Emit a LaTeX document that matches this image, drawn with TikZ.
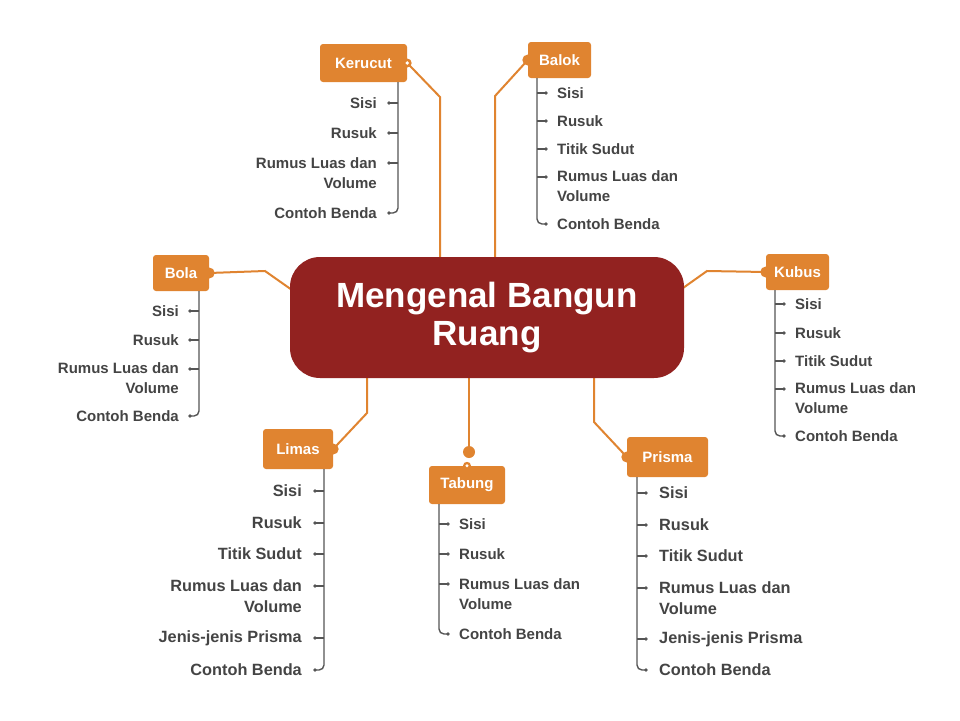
\documentclass[tikz,border=0pt]{standalone}
\usepackage{fontspec}
\setmainfont{Liberation Sans}
\definecolor{orng}{HTML}{E08430}
\definecolor{maroon}{HTML}{922220}
\definecolor{txtg}{HTML}{444444}
\definecolor{trk}{HTML}{555555}
\tikzset{
  conn/.style={draw=orng, line width=2pt},
  trunk/.style={draw=trk, line width=1.4pt},
  cat/.style={fill=orng, rounded corners=3pt, text=white, font=\bfseries\fontsize{15}{17}\selectfont, inner sep=0pt},
  itR/.style={anchor=west, inner sep=0pt, text=txtg, align=left, font=\bfseries\fontsize{15}{20}\selectfont},
  itL/.style={anchor=east, inner sep=0pt, text=txtg, align=right, font=\bfseries\fontsize{15}{20}\selectfont},
  itRb/.style={itR, font=\bfseries\fontsize{16.3}{21}\selectfont},
  itLb/.style={itL, font=\bfseries\fontsize{16.3}{21}\selectfont},
}
\def\tgap{20}
% right-side item: name, trunk x, y, text, style
\newcommand\iR[5]{%
  \coordinate (#1) at ({#2+9},#3);
  \draw[trunk] (#2,#3) -- (#1);
  \fill[trk] (#1) circle[radius=1.8pt];
  \node[#5] (#1-t) at ({#2+\tgap},#3) {#4};}
\newcommand\iL[5]{%
  \coordinate (#1) at ({#2-9},#3);
  \draw[trunk] (#2,#3) -- (#1);
  \fill[trk] (#1) circle[radius=1.8pt];
  \node[#5] (#1-t) at ({#2-\tgap},#3) {#4};}
% last item with rounded trunk: parent, name, trunk x, y, text, style
\newcommand\lR[6]{%
  \coordinate (#2) at ({#3+9},#4);
  \coordinate (#2-x) at (#3,0);
  \draw[trunk, rounded corners=5pt] (#1.south -| #2-x) |- (#2);
  \fill[trk] (#2) circle[radius=1.8pt];
  \node[#6] (#2-t) at ({#3+\tgap},#4) {#5};}
\newcommand\lL[6]{%
  \coordinate (#2) at ({#3-9},#4);
  \coordinate (#2-x) at (#3,0);
  \draw[trunk, rounded corners=5pt] (#1.south -| #2-x) |- (#2);
  \fill[trk] (#2) circle[radius=1.8pt];
  \node[#6] (#2-t) at ({#3-\tgap},#4) {#5};}
\begin{document}
\begin{tikzpicture}[x=1pt,y=-1pt]
\path[use as bounding box, fill=white] (0,0) rectangle (960,720);

% category boxes
\node[cat, minimum width=87pt, minimum height=38pt] (Kerucut) at (363.5,63) {Kerucut};
\node[cat, minimum width=63pt, minimum height=36pt] (Balok) at (559.5,60) {Balok};
\node[cat, minimum width=56pt, minimum height=36pt] (Bola) at (181,273) {Bola};
\node[cat, minimum width=63pt, minimum height=36pt] (Kubus) at (797.5,272) {Kubus};
\node[cat, minimum width=70pt, minimum height=40pt] (Limas) at (298,449) {Limas};
\node[cat, minimum width=76pt, minimum height=38pt] (Tabung) at (467,485) {Tabung};
\node[cat, minimum width=81pt, minimum height=40pt] (Prisma) at (667.5,457) {Prisma};

% orange connectors
\coordinate (kA) at (440,258); \coordinate (kB) at (440,97);
\coordinate (bA) at (495,258); \coordinate (bB) at (495,96);
\coordinate (oA) at (292,290); \coordinate (oB) at (265,271);
\coordinate (uA) at (683,288); \coordinate (uB) at (707,271);
\coordinate (lA) at (367,377); \coordinate (lB) at (367,413);
\coordinate (tA) at (469,377); \coordinate (tB) at (469,452);
\coordinate (pA) at (594,377); \coordinate (pB) at (594,422);
\draw[conn] (kA) -- (kB) -- (Kerucut.east);
\draw[conn] (bA) -- (bB) -- (Balok.west);
\draw[conn] (oA) -- (oB) -- (Bola.east);
\draw[conn] (uA) -- (uB) -- (Kubus.west);
\draw[conn] (lA) -- (lB) -- (Limas.east);
\draw[conn] (tA) -- (tB);
\draw[conn] (pA) -- (pB) -- (Prisma.west);

% central node
\node[fill=maroon, rounded corners=30pt, minimum width=394pt, minimum height=121pt, text=white, align=center,
      font=\bfseries\fontsize{35}{38}\selectfont, inner sep=0pt] (Cen) at (487,317.5) {Mengenal Bangun\\Ruang};

% connector dots
\fill[orng] (Kerucut.east) circle[radius=4.5pt]; \fill[white] (Kerucut.east) circle[radius=1.8pt];
\fill[orng] (Balok.west) circle[radius=5.5pt];
\fill[orng] (Bola.east) circle[radius=5.5pt];
\fill[orng] (Kubus.west) circle[radius=5.5pt];
\fill[orng] (Limas.east) circle[radius=5.5pt];
\fill[orng] (Prisma.west) circle[radius=5.5pt];
\fill[orng] (tB) circle[radius=6pt];
\fill[orng] (Tabung.north) circle[radius=4pt]; \fill[white] (Tabung.north) circle[radius=1.6pt];

% Kerucut
\def\tgap{21}
\iL{ke1}{398}{103}{Sisi}{itL}
\iL{ke2}{398}{133}{Rusuk}{itL}
\iL{ke3}{398}{163}{}{itL}
\node[itL] (ke3-tt) at (377,173) {Rumus Luas dan\\Volume};
\lL{Kerucut}{ke4}{398}{213}{Contoh Benda}{itL}

% Balok
\def\tgap{20}
\iR{ba1}{537}{93}{Sisi}{itR}
\iR{ba2}{537}{121}{Rusuk}{itR}
\iR{ba3}{537}{149}{Titik Sudut}{itR}
\iR{ba4}{537}{177}{}{itR}
\node[itR] (ba4-tt) at (557,186.5) {Rumus Luas dan\\Volume};
\lR{Balok}{ba5}{537}{224}{Contoh Benda}{itR}

% Bola
\iL{bo1}{199}{311}{Sisi}{itL}
\iL{bo2}{199}{340}{Rusuk}{itL}
\iL{bo3}{199}{369}{}{itL}
\node[itL] (bo3-tt) at (179,378.5) {Rumus Luas dan\\Volume};
\lL{Bola}{bo4}{199}{416}{Contoh Benda}{itL}

% Kubus
\iR{ku1}{775}{304}{Sisi}{itR}
\iR{ku2}{775}{333}{Rusuk}{itR}
\iR{ku3}{775}{361}{Titik Sudut}{itR}
\iR{ku4}{775}{389}{}{itR}
\node[itR] (ku4-tt) at (795,398.5) {Rumus Luas dan\\Volume};
\lR{Kubus}{ku5}{775}{436}{Contoh Benda}{itR}

% Tabung
\iR{ta1}{439}{524}{Sisi}{itR}
\iR{ta2}{439}{554}{Rusuk}{itR}
\iR{ta3}{439}{584}{}{itR}
\node[itR] (ta3-tt) at (459,594) {Rumus Luas dan\\Volume};
\lR{Tabung}{ta4}{439}{634}{Contoh Benda}{itR}

% Limas
\def\tgap{22}
\iL{li1}{324}{491}{Sisi}{itLb}
\iL{li2}{324}{523}{Rusuk}{itLb}
\iL{li3}{324}{554}{Titik Sudut}{itLb}
\iL{li4}{324}{586}{}{itLb}
\node[itLb] (li4-tt) at (302,596.5) {Rumus Luas dan\\Volume};
\iL{li5}{324}{638}{Jenis-jenis Prisma}{itLb}
\lL{Limas}{li6}{324}{670}{Contoh Benda}{itLb}

% Prisma
\iR{pr1}{637}{493}{Sisi}{itRb}
\iR{pr2}{637}{525}{Rusuk}{itRb}
\iR{pr3}{637}{556}{Titik Sudut}{itRb}
\iR{pr4}{637}{588}{}{itRb}
\node[itRb] (pr4-tt) at (659,598) {Rumus Luas dan\\Volume};
\iR{pr5}{637}{639}{Jenis-jenis Prisma}{itRb}
\lR{Prisma}{pr6}{637}{670}{Contoh Benda}{itRb}
\end{tikzpicture}
\end{document}
